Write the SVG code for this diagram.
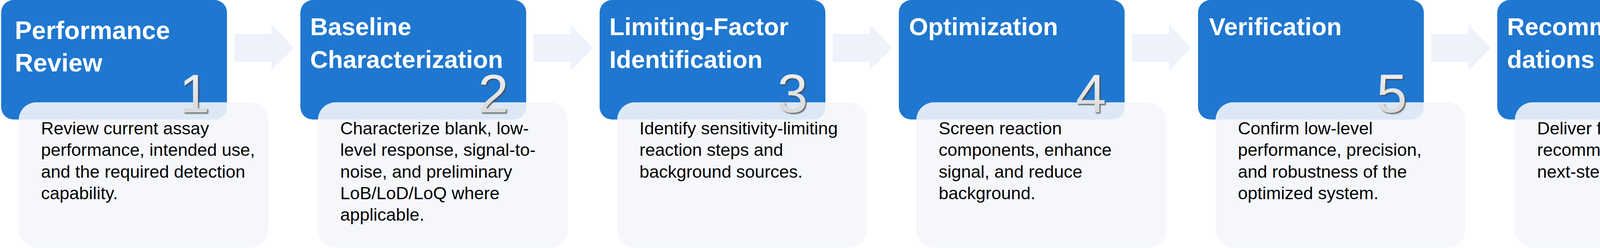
<svg xmlns="http://www.w3.org/2000/svg" width="4517" height="635" viewBox="0 0 4517 635">
<defs>
<style>
.card{fill:#1F77D0}
.panel{fill:#F4F6FB;fill-opacity:0.89}
.title{font-family:"Liberation Sans",Arial,sans-serif;font-weight:bold;fill:#FFFFFF;font-size:63px}
.t1{font-size:65px}
.body{font-family:"Liberation Sans",Arial,sans-serif;font-size:45px;fill:#000000}
.num{font-family:"Liberation Sans",Arial,sans-serif;font-size:140px;fill:url(#numGrad);text-anchor:middle;filter:url(#emboss)}
.arrow{fill:#EDF2FB}
</style>
<linearGradient id="numGrad" x1="0" y1="0" x2="0" y2="1">
<stop offset="0" stop-color="#F4F4F4"/>
<stop offset="1" stop-color="#D2D2D2"/>
</linearGradient>
<filter id="emboss" x="-20%" y="-20%" width="140%" height="140%">
<feGaussianBlur in="SourceAlpha" stdDeviation="1.6" result="b"/>
<feOffset in="b" dx="3" dy="3" result="o"/>
<feFlood flood-color="#4A4A4A" flood-opacity="0.85"/>
<feComposite in2="o" operator="in" result="s"/>
<feMerge><feMergeNode in="s"/><feMergeNode in="SourceGraphic"/></feMerge>
</filter>
</defs>
<rect width="4517" height="635" fill="#FFFFFF"/>
<g id="connectors">
<polygon class="arrow" points="600,87 695,87 695,63 752,123 695,180 695,158 600,158"/>
<polygon class="arrow" points="1366,87 1461,87 1461,63 1518,123 1461,180 1461,158 1366,158"/>
<polygon class="arrow" points="2132,87 2227,87 2227,63 2284,123 2227,180 2227,158 2132,158"/>
<polygon class="arrow" points="2898,87 2993,87 2993,63 3050,123 2993,180 2993,158 2898,158"/>
<polygon class="arrow" points="3664,87 3759,87 3759,63 3816,123 3759,180 3759,158 3664,158"/>
</g>
<g id="step1">
<rect class="card" x="3" y="0" width="578" height="306" rx="32"/>
<text class="title t1" x="38"><tspan x="38" y="100">Performance</tspan><tspan x="38" y="183">Review</tspan></text>
<rect class="panel" x="48" y="262" width="639" height="372" rx="45"/>
<text class="num" x="498" y="288">1</text>
<text class="body"><tspan x="105" y="344">Review current assay</tspan><tspan x="105" y="399">performance, intended use,</tspan><tspan x="105" y="455">and the required detection</tspan><tspan x="105" y="510">capability.</tspan></text>
</g>
<g id="step2">
<rect class="card" x="769" y="0" width="578" height="306" rx="32"/>
<text class="title"><tspan x="794" y="90">Baseline</tspan><tspan x="794" y="174">Characterization</tspan></text>
<rect class="panel" x="814" y="262" width="639" height="372" rx="45"/>
<text class="num" x="1263" y="288">2</text>
<text class="body"><tspan x="871" y="344">Characterize blank, low-</tspan><tspan x="871" y="399">level response, signal-to-</tspan><tspan x="871" y="455">noise, and preliminary</tspan><tspan x="871" y="510">LoB/LoD/LoQ where</tspan><tspan x="871" y="565">applicable.</tspan></text>
</g>
<g id="step3">
<rect class="card" x="1535" y="0" width="578" height="306" rx="32"/>
<text class="title"><tspan x="1560" y="90">Limiting-Factor</tspan><tspan x="1560" y="174">Identification</tspan></text>
<rect class="panel" x="1580" y="262" width="639" height="372" rx="45"/>
<text class="num" x="2029" y="288">3</text>
<text class="body"><tspan x="1637" y="344">Identify sensitivity-limiting</tspan><tspan x="1637" y="399">reaction steps and</tspan><tspan x="1637" y="455">background sources.</tspan></text>
</g>
<g id="step4">
<rect class="card" x="2301" y="0" width="578" height="306" rx="32"/>
<text class="title"><tspan x="2327" y="90">Optimization</tspan></text>
<rect class="panel" x="2346" y="262" width="639" height="372" rx="45"/>
<text class="num" x="2793" y="288">4</text>
<text class="body"><tspan x="2403" y="344">Screen reaction</tspan><tspan x="2403" y="399">components, enhance</tspan><tspan x="2403" y="455">signal, and reduce</tspan><tspan x="2403" y="510">background.</tspan></text>
</g>
<g id="step5">
<rect class="card" x="3067" y="0" width="578" height="306" rx="32"/>
<text class="title"><tspan x="3095" y="90">Verification</tspan></text>
<rect class="panel" x="3112" y="262" width="639" height="372" rx="45"/>
<text class="num" x="3563" y="288">5</text>
<text class="body"><tspan x="3169" y="344">Confirm low-level</tspan><tspan x="3169" y="399">performance, precision,</tspan><tspan x="3169" y="455">and robustness of the</tspan><tspan x="3169" y="510">optimized system.</tspan></text>
</g>
<g id="step6">
<rect class="card" x="3833" y="0" width="578" height="306" rx="32"/>
<text class="title"><tspan x="3858" y="90">Recommen-</tspan><tspan x="3858" y="174">dations</tspan></text>
<rect class="panel" x="3878" y="262" width="639" height="372" rx="45"/>
<text class="num" x="4327" y="288">6</text>
<text class="body"><tspan x="3935" y="344">Deliver final optimization</tspan><tspan x="3935" y="399">recommendations and</tspan><tspan x="3935" y="455">next-step guidance.</tspan></text>
</g>
</svg>
